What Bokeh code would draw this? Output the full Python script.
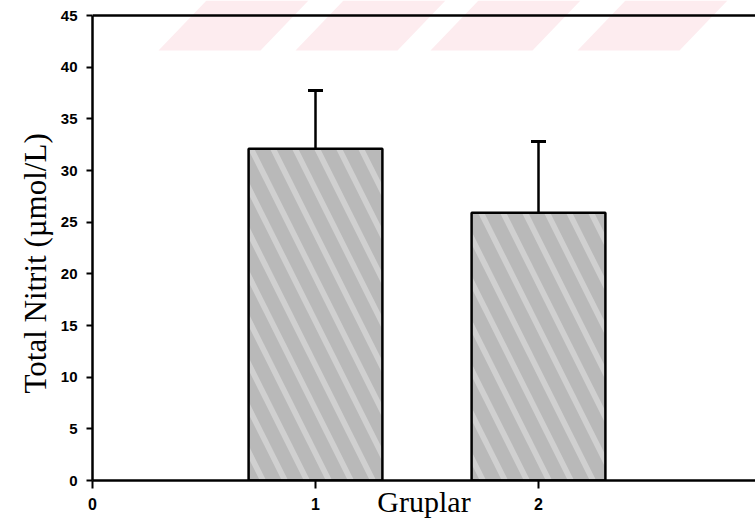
from bokeh.plotting import figure
from bokeh.models import (ColumnDataSource, Whisker, TeeHead, Span, Title,
                          FixedTicker)
from bokeh.embed import file_html
from bokeh.resources import INLINE

# ---- data ----
groups = [1, 2]
means = [32.1, 25.9]
sds = [5.65, 6.9]
y_ticks = [0, 5, 10, 15, 20, 25, 30, 35, 40, 45]
x_ticks = [0, 1, 2, 3]
x_title = "Gruplar"
y_title = "Total Nitrit (\u00b5mol/L)"

# ---- layout constants (pixels of the reference) ----
W, H = 755, 523
LEFT, BOTTOM_PX = 92, 480
PX_PER_X = 223.0
PX_PER_Y = 465.0 / 45.0
x_end = (W - LEFT) / PX_PER_X
y_end = 45 + 15 / PX_PER_Y


def dx(px):
    return (px - LEFT) / PX_PER_X


def dy(py):
    return (BOTTOM_PX - py) / PX_PER_Y


p = figure(width=W, height=H, x_range=(0, x_end), y_range=(0, y_end),
           output_backend="svg", toolbar_location=None,
           min_border_left=LEFT, min_border_right=0, min_border_top=0,
           min_border_bottom=H - BOTTOM_PX)
p.outline_line_color = None
p.background_fill_color = "white"
p.border_fill_color = "white"
p.xgrid.visible = False
p.ygrid.visible = False

# ---- faint watermark stripes (decoration) ----
stripe_left = [158, 295, 430, 577]
stripe_w, shift, sh = 102, 48, 50
xs, ys = [], []
for s in stripe_left:
    xs.append([dx(s), dx(s + stripe_w), dx(s + stripe_w + shift), dx(s + shift)])
    ys.append([dy(sh), dy(sh), dy(0), dy(0)])
p.patches(xs, ys, fill_color="#fdecef", line_color=None)

# ---- bars ----
src = ColumnDataSource(dict(
    x=groups, top=means,
    upper=[m + s for m, s in zip(means, sds)],
))
p.vbar(x="x", top="top", width=0.6, bottom=0, source=src,
       fill_color="#d0d0d0", line_color="black", line_width=2.5,
       hatch_pattern="\\", hatch_color="#8e8e8e", hatch_alpha=0.35,
       hatch_scale=44, hatch_weight=14)

wh = Whisker(base="x", lower="top", upper="upper", source=src,
             line_color="black", line_width=2.5, lower_head=None,
             upper_head=TeeHead(size=15, line_color="black", line_width=3))
p.add_layout(wh)

# top frame line
p.add_layout(Span(location=45, dimension="width", line_color="black",
                  line_width=2.5))

# ---- axes ----
for ax in (p.xaxis, p.yaxis):
    ax.axis_line_width = 2.5
    ax.axis_line_color = "black"
    ax.major_tick_line_width = 2
    ax.major_tick_line_color = "black"
    ax.major_tick_in = 0
    ax.minor_tick_line_color = None
    ax.major_label_text_color = "black"
    ax.major_label_text_font = "Liberation Sans"
    ax.major_label_text_font_style = "bold"

p.yaxis.ticker = FixedTicker(ticks=y_ticks)
p.yaxis.bounds = (0, 45)
p.yaxis.major_tick_out = 6
p.yaxis.major_label_standoff = 9
p.yaxis.major_label_text_font_size = "15px"

p.xaxis.ticker = FixedTicker(ticks=x_ticks)
p.xaxis.major_tick_out = 8
p.xaxis.major_label_standoff = 9
p.xaxis.major_label_text_font_size = "16px"

# x title sits on the tick-label row, as in the reference
p.xaxis.axis_label = x_title
p.xaxis.axis_label_text_font = "Liberation Serif"
p.xaxis.axis_label_text_font_style = "normal"
p.xaxis.axis_label_text_font_size = "30px"
p.xaxis.axis_label_text_color = "black"
p.xaxis.axis_label_standoff = -28

# y title as a left-side title, shifted down a little
p.add_layout(Title(text=y_title, align="left", offset=87, standoff=9,
                   text_font="Liberation Serif", text_font_style="normal",
                   text_font_size="31px", text_color="black"), "left")

open("out.html", "w").write(file_html(p, INLINE))
